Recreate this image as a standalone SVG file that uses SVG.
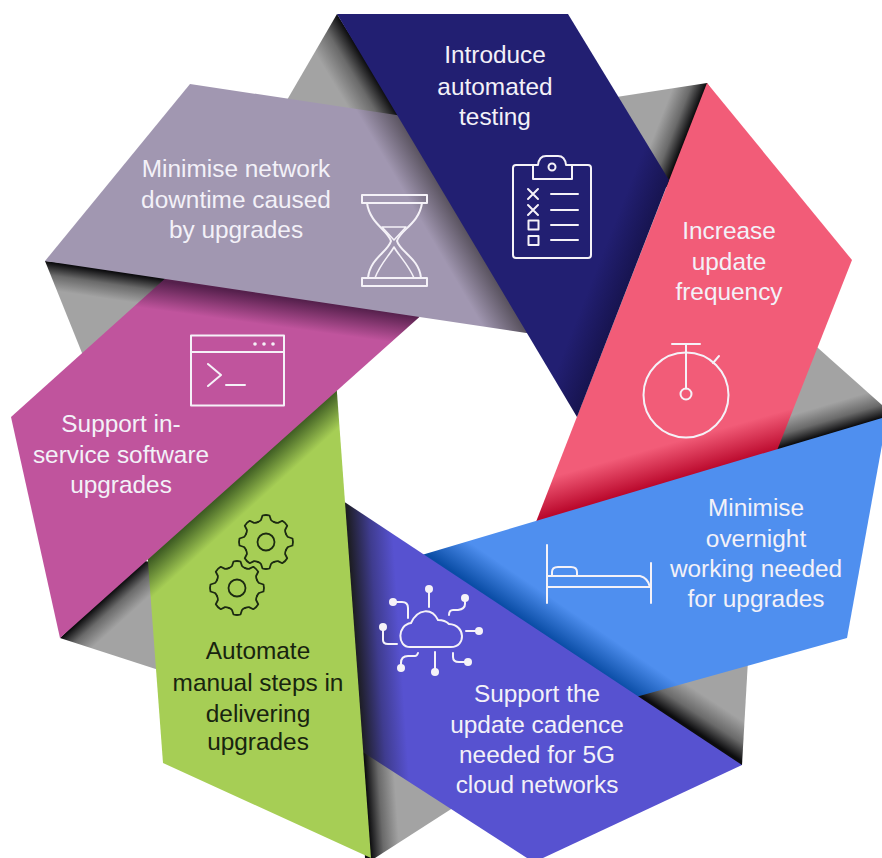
<svg xmlns="http://www.w3.org/2000/svg" xmlns:xlink="http://www.w3.org/1999/xlink" width="882" height="858" viewBox="0 0 882 858">
<style>
text{font-family:"Liberation Sans",Arial,sans-serif;font-size:24.400px;text-anchor:middle;fill:#F3F1F8}
.dk text{fill:#18240F}
.ic{fill:none;stroke:#F5F2F8;stroke-width:2;stroke-linecap:round;stroke-linejoin:round}
.ick{fill:none;stroke:#1C2A12;stroke-width:1.800;stroke-linecap:round;stroke-linejoin:round}
.dot{fill:#F5F2F8;stroke:none}
</style>
<defs>
<linearGradient id="gg1" gradientUnits="userSpaceOnUse" x1="367" y1="64" x2="334" y2="84"><stop offset="0" stop-color="#0C0C0E"/><stop offset=".45" stop-color="#6A6A6A"/><stop offset="1" stop-color="#A3A3A3"/></linearGradient>
<linearGradient id="gg2" gradientUnits="userSpaceOnUse" x1="688" y1="131" x2="660" y2="120"><stop offset="0" stop-color="#0C0C0E"/><stop offset=".45" stop-color="#6A6A6A"/><stop offset="1" stop-color="#A3A3A3"/></linearGradient>
<linearGradient id="gg3" gradientUnits="userSpaceOnUse" x1="810" y1="439" x2="802" y2="412"><stop offset="0" stop-color="#0C0C0E"/><stop offset=".45" stop-color="#6A6A6A"/><stop offset="1" stop-color="#A3A3A3"/></linearGradient>
<linearGradient id="gg4" gradientUnits="userSpaceOnUse" x1="692" y1="729" x2="711" y2="700"><stop offset="0" stop-color="#0C0C0E"/><stop offset=".45" stop-color="#6A6A6A"/><stop offset="1" stop-color="#A3A3A3"/></linearGradient>
<linearGradient id="gg5" gradientUnits="userSpaceOnUse" x1="367" y1="800" x2="396" y2="798"><stop offset="0" stop-color="#0C0C0E"/><stop offset=".45" stop-color="#6A6A6A"/><stop offset="1" stop-color="#A3A3A3"/></linearGradient>
<linearGradient id="gg6" gradientUnits="userSpaceOnUse" x1="104" y1="599" x2="123" y2="620"><stop offset="0" stop-color="#0C0C0E"/><stop offset=".45" stop-color="#6A6A6A"/><stop offset="1" stop-color="#A3A3A3"/></linearGradient>
<linearGradient id="gg7" gradientUnits="userSpaceOnUse" x1="100" y1="270" x2="96" y2="297"><stop offset="0" stop-color="#0C0C0E"/><stop offset=".45" stop-color="#6A6A6A"/><stop offset="1" stop-color="#A3A3A3"/></linearGradient>
<linearGradient id="gNavy" gradientUnits="userSpaceOnUse" x1="623" y1="298" x2="590" y2="285"><stop offset="0" stop-color="#171450"/><stop offset="1" stop-color="#221F72"/></linearGradient>
<linearGradient id="gPink" gradientUnits="userSpaceOnUse" x1="650" y1="487" x2="640" y2="452"><stop offset="0" stop-color="#BA082C"/><stop offset="1" stop-color="#F25C78"/></linearGradient>
<linearGradient id="gBlue" gradientUnits="userSpaceOnUse" x1="540" y1="631" x2="559" y2="603"><stop offset="0" stop-color="#0A4DA6"/><stop offset="1" stop-color="#4F8FEF"/></linearGradient>
<linearGradient id="gInd" gradientUnits="userSpaceOnUse" x1="350" y1="570" x2="395" y2="567"><stop offset="0" stop-color="#1C1C20"/><stop offset=".5" stop-color="#3F3C8F"/><stop offset="1" stop-color="#5752D0"/></linearGradient>
<linearGradient id="gGreen" gradientUnits="userSpaceOnUse" x1="240" y1="477" x2="260" y2="499"><stop offset="0" stop-color="#3C5A22"/><stop offset="1" stop-color="#A6CE55"/></linearGradient>
<linearGradient id="gMag" gradientUnits="userSpaceOnUse" x1="300" y1="300" x2="296" y2="329"><stop offset="0" stop-color="#55204C"/><stop offset="1" stop-color="#C0549D"/></linearGradient>
<linearGradient id="gLil" gradientUnits="userSpaceOnUse" x1="460" y1="221" x2="431" y2="238"><stop offset="0" stop-color="#5A5360"/><stop offset="1" stop-color="#A197B1"/></linearGradient>
<path id="tooth" d="M-8.2,-19.9Q-6,-20.8-5,-22L-3.5,-26.5Q0,-27.5 3.5,-26.5L5,-22Q6,-20.8 8.2,-19.9"/>
<g id="gear">
<use href="#tooth"/><use href="#tooth" transform="rotate(45)"/><use href="#tooth" transform="rotate(90)"/><use href="#tooth" transform="rotate(135)"/><use href="#tooth" transform="rotate(180)"/><use href="#tooth" transform="rotate(225)"/><use href="#tooth" transform="rotate(270)"/><use href="#tooth" transform="rotate(315)"/>
<circle r="8.500"/>
</g>
</defs>

<g id="folds">
<polygon points="337,14 402,118 287,100" fill="url(#gg1)"/>
<polygon points="610,98 707,83 715,95 672,190 655,180" fill="url(#gg2)"/>
<polygon points="809,340 882,405 882,425 770,458 775,440" fill="url(#gg3)"/>
<polygon points="748,660 742,765 725,765 630,695" fill="url(#gg4)"/>
<polygon points="358,745 459,804 375,858 365,858" fill="url(#gg5)"/>
<polygon points="60,638 140,560 165,565 168,673" fill="url(#gg6)"/>
<polygon points="45,261 175,275 90,355 82,353" fill="url(#gg7)"/>
</g>

<g id="pink">
<polygon points="707,83 852,260 776,453 534,527" fill="url(#gPink)"/>
<text x="729" y="239">Increase</text><text x="729" y="270">update</text><text x="729" y="300">frequency</text>
<g class="ic"><circle cx="686" cy="395" r="42.500"/><circle cx="686" cy="394" r="5.500"/><path d="M672,344H700M686,344V388.500M713,363L719,356"/></g>
</g>

<g id="blue">
<polygon points="415,557 882,418 882,445 847,638 625,700" fill="url(#gBlue)"/>
<text x="756" y="516">Minimise</text><text x="756" y="547">overnight</text><text x="756" y="577">working needed</text><text x="756" y="607">for upgrades</text>
<g class="ic"><path d="M547,545V603M651,563V603M547,587H651M547,576H640Q648,578 650,587M552,576V572Q552,567 558,567H571Q577,567 577,572V576"/></g>
</g>

<g id="indigo">
<polygon points="340,499 742,765 543,858 527,858 358,749" fill="url(#gInd)"/>
<text x="537" y="702">Support the</text><text x="537" y="733">update cadence</text><text x="537" y="763">needed for 5G</text><text x="537" y="793">cloud networks</text>
<g class="ic"><path d="M410,647H451C466,647 466,625 449,624C446,621 442,620 438,620C432,608 418,608 411,623C397,625 397,647 410,647Z"/>
<path d="M429,589V607M465,598V604Q465,609 458,610H453Q449,610 449,615M393,602H402Q408,602 408,608V618M383,627V640Q383,644 388,644H397M466,631H479M453,653V657Q453,662 459,662H468M435,652V672M401,668V663Q401,656 408,656H415Q417,656 418,653"/></g>
<circle class="dot" cx="429" cy="589" r="4"/><circle class="dot" cx="465" cy="598" r="4"/><circle class="dot" cx="393" cy="602" r="4"/><circle class="dot" cx="383" cy="627" r="4"/><circle class="dot" cx="479" cy="631" r="4"/><circle class="dot" cx="468" cy="662" r="4"/><circle class="dot" cx="435" cy="672" r="4"/><circle class="dot" cx="401" cy="668" r="4"/>
</g>

<g id="green">
<polygon points="336.500,386 371,858 163,763 147.500,555" fill="url(#gGreen)"/>
<g class="dk"><text x="258" y="659">Automate</text><text x="258" y="691">manual steps in</text><text x="258" y="722">delivering</text><text x="258" y="750">upgrades</text></g>
<use href="#gear" class="ick" x="266" y="542"/><use href="#gear" class="ick" x="237" y="588"/>
</g>

<g id="magenta">
<polygon points="169,275 425,312 60,638 11,417" fill="url(#gMag)"/>
<text x="121" y="432">Support in-</text><text x="121" y="463">service software</text><text x="121" y="493">upgrades</text>
<g class="ic"><rect x="191" y="335.500" width="93" height="70"/><path d="M191,352H284M208,364L221,375L208,386M226,385H245"/></g>
<circle class="dot" cx="255" cy="344" r="1.800"/><circle class="dot" cx="264" cy="344" r="1.800"/><circle class="dot" cx="273" cy="344" r="1.800"/>
</g>

<g id="lilac">
<polygon points="190,84 403,116 533,334 45,261" fill="url(#gLil)"/>
<text x="236" y="177">Minimise network</text><text x="236" y="208">downtime caused</text><text x="236" y="238">by upgrades</text>
<g class="ic"><rect x="362" y="195" width="65" height="8"/><rect x="362" y="278" width="65" height="8"/>
<path d="M367,203C370,224 388,230 391,241C388,252 370,258 368,278M422,203C419,224 400,230 397,241C400,252 419,258 421,278"/>
<path d="M382,227H406L394,240ZM375,278C380,264 389,256 394,247C399,256 408,264 414,278" stroke-width="1.600"/></g>
</g>

<g id="navy">
<polygon points="337,14 568,14 669,180 577,417" fill="url(#gNavy)"/>
<text x="495" y="63">Introduce</text><text x="495" y="95">automated</text><text x="495" y="125">testing</text>
<g class="ic"><path d="M533,165H516Q513,165 513,168V255Q513,258 516,258H588Q591,258 591,255V168Q591,165 588,165H572"/>
<path d="M533,165V179H572V165H566Q565,156 558,156H546Q539,156 538,165Z"/><circle cx="552" cy="167" r="3.500"/>
<path d="M528,189L538,199M538,189L528,199M528,205L538,215M538,205L528,215M551,194H578M551,210H578M551,225H578M551,240H578"/>
<rect x="528.500" y="220.500" width="10" height="9"/><rect x="528.500" y="236" width="10" height="9"/></g>
</g>
</svg>
